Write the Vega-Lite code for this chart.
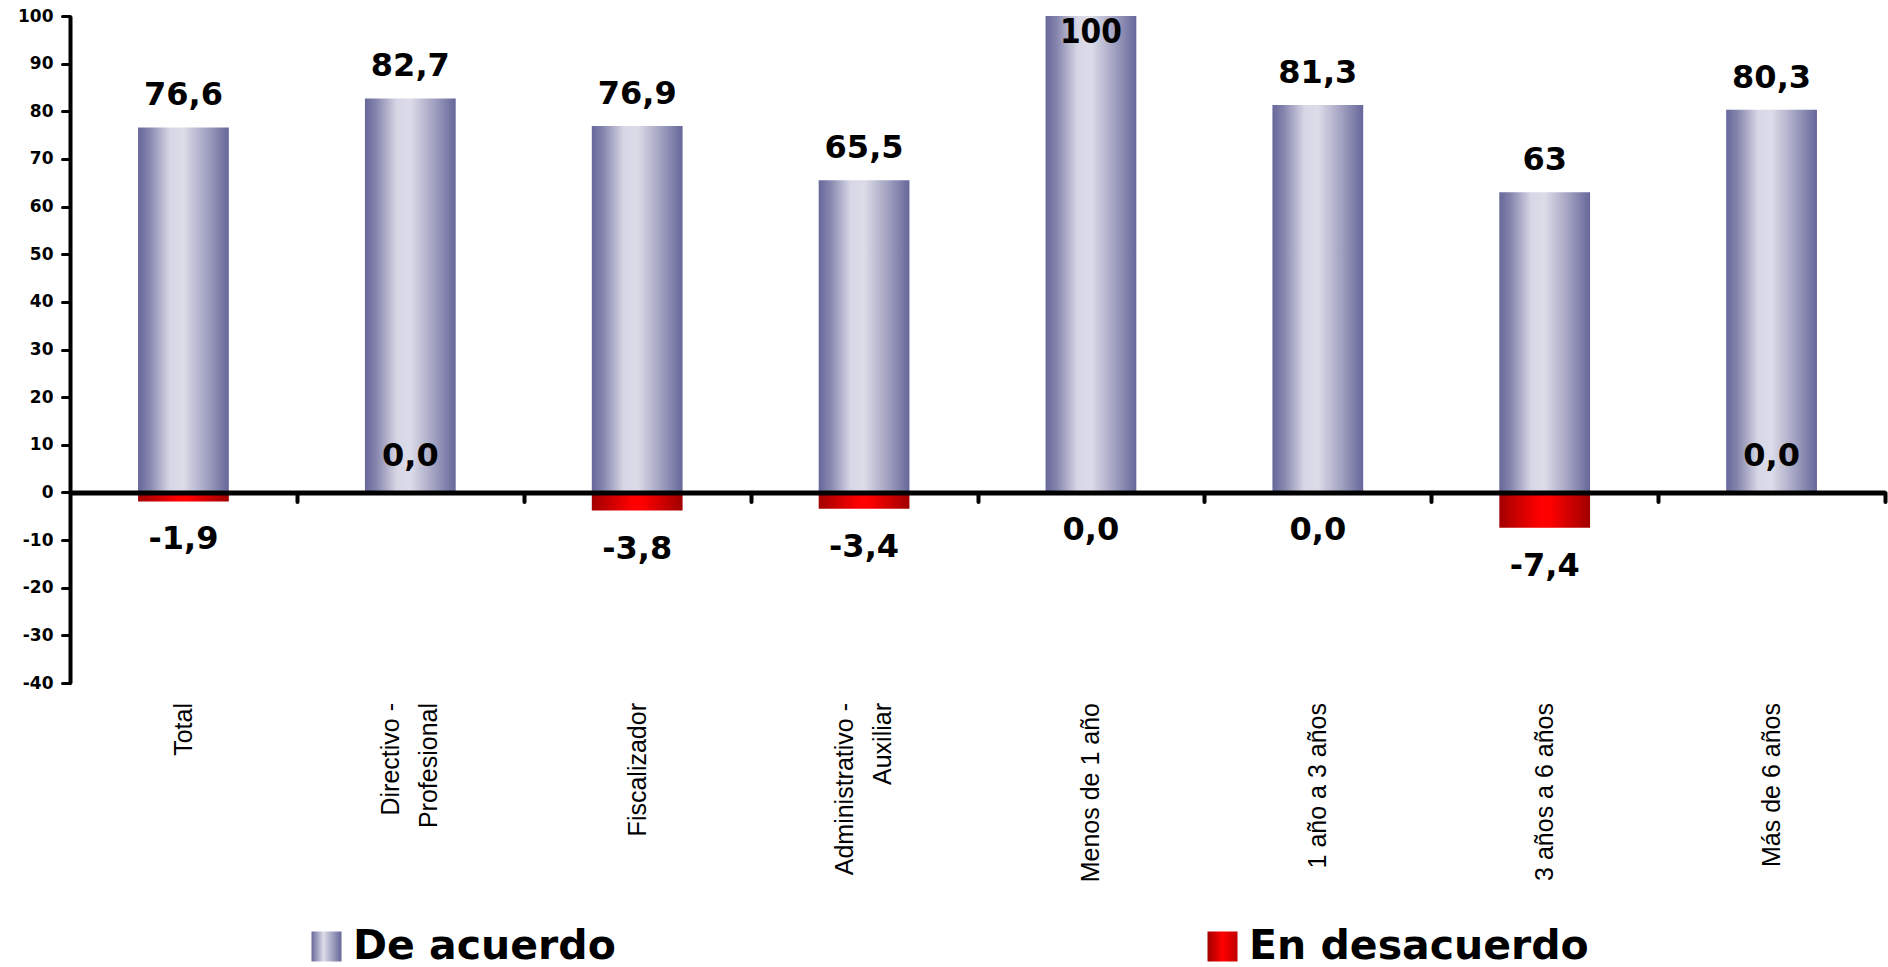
{
  "$schema": "https://vega.github.io/schema/vega-lite/v6.json",
  "width": 1815,
  "height": 667,
  "autosize": {"type": "none"},
  "padding": {"left": 70, "top": 16, "right": 3, "bottom": 284},
  "background": "white",
  "config": {
    "view": {"stroke": null},
    "locale": {"number": {"decimal": ",", "thousands": ".", "grouping": [3], "currency": ["", ""], "minus": "-"}},
    "legend": {
      "orient": "none",
      "direction": "horizontal",
      "title": null,
      "symbolType": "square",
      "symbolSize": 900,
      "symbolStrokeWidth": 0,
      "symbolOpacity": 1,
      "labelFont": "DejaVu Sans",
      "labelFontWeight": "bold",
      "labelFontSize": 41,
      "labelColor": "black",
      "labelOffset": 6,
      "labelLimit": 0,
      "padding": 0
    }
  },
  "data": {
    "values": [
      {"categoria": "Total", "serie": "De acuerdo", "valor": 76.6},
      {"categoria": "Directivo - Profesional", "serie": "De acuerdo", "valor": 82.7},
      {"categoria": "Fiscalizador", "serie": "De acuerdo", "valor": 76.9},
      {"categoria": "Administrativo - Auxiliar", "serie": "De acuerdo", "valor": 65.5},
      {"categoria": "Menos de 1 año", "serie": "De acuerdo", "valor": 100},
      {"categoria": "1 año a 3 años", "serie": "De acuerdo", "valor": 81.3},
      {"categoria": "3 años a 6 años", "serie": "De acuerdo", "valor": 63},
      {"categoria": "Más de 6 años", "serie": "De acuerdo", "valor": 80.3},
      {"categoria": "Total", "serie": "En desacuerdo", "valor": -1.9},
      {"categoria": "Directivo - Profesional", "serie": "En desacuerdo", "valor": 0},
      {"categoria": "Fiscalizador", "serie": "En desacuerdo", "valor": -3.8},
      {"categoria": "Administrativo - Auxiliar", "serie": "En desacuerdo", "valor": -3.4},
      {"categoria": "Menos de 1 año", "serie": "En desacuerdo", "valor": 0},
      {"categoria": "1 año a 3 años", "serie": "En desacuerdo", "valor": 0},
      {"categoria": "3 años a 6 años", "serie": "En desacuerdo", "valor": -7.4},
      {"categoria": "Más de 6 años", "serie": "En desacuerdo", "valor": 0}
    ]
  },
  "encoding": {
    "x": {
      "field": "categoria",
      "type": "nominal",
      "scale": {
        "domain": ["Total", "Directivo - Profesional", "Fiscalizador", "Administrativo - Auxiliar", "Menos de 1 año", "1 año a 3 años", "3 años a 6 años", "Más de 6 años"],
        "paddingInner": 0.6,
        "paddingOuter": 0.3
      },
      "axis": {
        "orient": "bottom",
        "offset": -190.5,
        "title": null,
        "domainColor": "black",
        "domainWidth": 5,
        "tickOffset": 113.44,
        "tickColor": "black",
        "tickWidth": 4,
        "tickSize": 9,
        "tickCap": "round",
        "labelAngle": -90,
        "labelPadding": 201,
        "labelOffset": {"condition": {"test": "indexof(datum.label, ' - ') > 0", "value": -133.44}, "value": -113.44},
        "labelFont": "Liberation Sans",
        "labelFontSize": 25,
        "labelColor": "black",
        "labelLimit": 0,
        "labelOverlap": false,
        "labelLineHeight": 38,
        "labelExpr": "indexof(datum.label, ' - ') > 0 ? [slice(datum.label, 0, indexof(datum.label, ' - ') + 2), slice(datum.label, indexof(datum.label, ' - ') + 3)] : datum.label",
        "zindex": 1
      }
    },
    "y": {
      "field": "valor",
      "type": "quantitative",
      "scale": {"domain": [-40, 100], "nice": false, "zero": false},
      "axis": {
        "title": null,
        "values": [-40, -30, -20, -10, 0, 10, 20, 30, 40, 50, 60, 70, 80, 90, 100],
        "format": "d",
        "grid": false,
        "domainColor": "black",
        "domainWidth": 4,
        "tickColor": "black",
        "tickWidth": 3,
        "tickSize": 8,
        "tickCap": "round",
        "labelFont": "DejaVu Sans",
        "labelFontWeight": "bold",
        "labelFontSize": 17,
        "labelColor": "black",
        "labelPadding": 9,
        "labelFlush": false,
        "zindex": 1
      }
    }
  },
  "layer": [
    {
      "transform": [{"filter": "datum.serie === 'De acuerdo'"}],
      "mark": {
        "type": "bar",
        "fill": {
          "gradient": "linear", "x1": 0, "x2": 1, "y1": 0, "y2": 0,
          "stops": [
            {"offset": 0, "color": "#67679a"},
            {"offset": 0.12, "color": "#8484ad"},
            {"offset": 0.35, "color": "#d6d6e5"},
            {"offset": 0.5, "color": "#dcdce9"},
            {"offset": 0.75, "color": "#a4a4c3"},
            {"offset": 1, "color": "#66669a"}
          ]
        }
      }
    },
    {
      "transform": [{"filter": "datum.serie === 'En desacuerdo'"}],
      "mark": {
        "type": "bar",
        "fill": {
          "gradient": "linear", "x1": 0, "x2": 1, "y1": 0, "y2": 0,
          "stops": [
            {"offset": 0, "color": "#a30000"},
            {"offset": 0.45, "color": "#ff0000"},
            {"offset": 0.55, "color": "#ff0000"},
            {"offset": 1, "color": "#a00000"}
          ]
        }
      }
    },
    {
      "transform": [{"filter": "datum.serie === 'De acuerdo'"}],
      "mark": {
        "type": "point",
        "filled": true,
        "opacity": 0,
        "fill": {"gradient": "linear", "x1": 0, "x2": 1, "y1": 0, "y2": 0, "stops": [{"offset": 0, "color": "#67679a"}, {"offset": 0.4, "color": "#dcdce9"}, {"offset": 1, "color": "#66669a"}]}
      },
      "encoding": {
        "shape": {
          "field": "serie",
          "type": "nominal",
          "scale": {"domain": ["De acuerdo"], "range": ["square"]},
          "legend": {"legendX": 236, "legendY": 910}
        }
      }
    },
    {
      "transform": [{"filter": "datum.serie === 'En desacuerdo'"}],
      "mark": {
        "type": "point",
        "filled": true,
        "opacity": 0,
        "fill": {"gradient": "linear", "x1": 0, "x2": 1, "y1": 0, "y2": 0, "stops": [{"offset": 0, "color": "#a30000"}, {"offset": 0.5, "color": "#ff0000"}, {"offset": 1, "color": "#c00000"}]}
      },
      "encoding": {
        "shape": {
          "field": "serie",
          "type": "nominal",
          "scale": {"domain": ["En desacuerdo"], "range": ["square"]},
          "legend": {"legendX": 1132, "legendY": 910}
        }
      }
    },
    {
      "transform": [{"filter": "datum.serie === 'De acuerdo' && datum.valor < 100"}],
      "mark": {"type": "text", "baseline": "alphabetic", "dy": -22, "font": "DejaVu Sans", "fontWeight": "bold", "fontSize": 32, "color": "black"},
      "encoding": {"text": {"field": "valor", "type": "quantitative", "format": ".1~f"}}
    },
    {
      "transform": [{"filter": "datum.serie === 'De acuerdo' && datum.valor >= 100"}],
      "mark": {"type": "text", "baseline": "alphabetic", "dy": 27, "font": "DejaVu Sans Condensed, Liberation Sans", "fontWeight": "bold", "fontSize": 33, "color": "black"},
      "encoding": {"text": {"field": "valor", "type": "quantitative", "format": ".1~f"}}
    },
    {
      "transform": [{"filter": "datum.serie === 'En desacuerdo' && (datum.valor < 0 || datum.categoria === 'Menos de 1 año' || datum.categoria === '1 año a 3 años')"}],
      "mark": {"type": "text", "baseline": "alphabetic", "dy": 48, "font": "DejaVu Sans", "fontWeight": "bold", "fontSize": 32, "color": "black"},
      "encoding": {"text": {"field": "valor", "type": "quantitative", "format": ".1f"}}
    },
    {
      "transform": [{"filter": "datum.serie === 'En desacuerdo' && (datum.categoria === 'Directivo - Profesional' || datum.categoria === 'Más de 6 años')"}],
      "mark": {"type": "text", "baseline": "alphabetic", "dy": -26, "font": "DejaVu Sans", "fontWeight": "bold", "fontSize": 32, "color": "black"},
      "encoding": {"text": {"field": "valor", "type": "quantitative", "format": ".1f"}}
    }
  ],
  "resolve": {"scale": {"shape": "independent"}, "legend": {"shape": "independent"}}
}
